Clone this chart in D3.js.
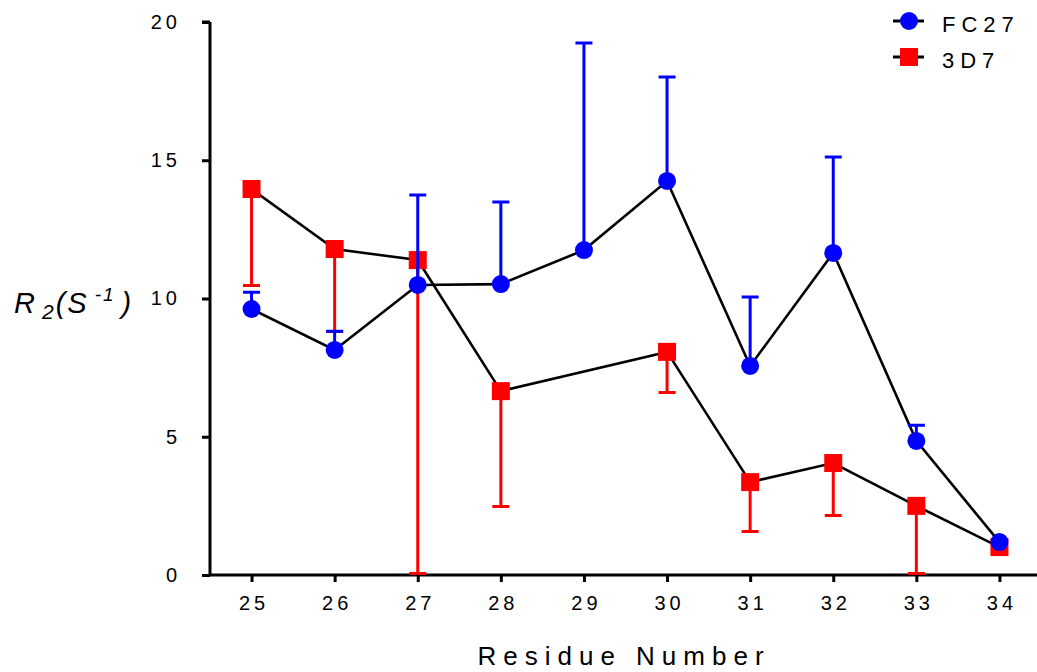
<!DOCTYPE html>
<html><head><meta charset="utf-8">
<script src="https://cdn.jsdelivr.net/npm/d3@7"></script>
<style>
body{margin:0;background:#fff;}
svg{display:block;font-family:"Liberation Sans",Arial,sans-serif;}
</style></head>
<body><svg id="c" width="1037" height="672"></svg>
<script>
const residues = [25,26,27,28,29,30,31,32,33,34];
const fc27 = [9.62,8.14,10.49,10.52,11.75,14.25,7.56,11.65,4.85,1.19];
const fc27Upper = [10.23,8.82,13.74,13.49,19.24,18.01,10.05,15.12,5.42,null];
const d3d7 = [13.96,11.79,11.39,6.65,null,8.07,3.36,4.05,2.5,1.01];
const d3d7Lower = [10.42,8.75,0,2.42,null,6.55,1.52,2.1,0,null];
const yTicks = [0,5,10,15,20];
const seriesNames = ["FC27","3D7"];

const svg = d3.select("#c");
const x = d3.scaleLinear().domain([24.5,34.5]).range([210,1041]);
const y = d3.scaleLinear().domain([0,20]).range([575,22]);

// axes
const yAxis = svg.append("g").attr("transform","translate(210,0)")
  .call(d3.axisLeft(y).tickValues(yTicks).tickSize(8).tickPadding(25).tickFormat(d3.format("d")));
const xAxis = svg.append("g").attr("transform","translate(0,575)")
  .call(d3.axisBottom(x).tickValues(residues).tickSize(7).tickPadding(14).tickFormat(d3.format("d")));
[yAxis,xAxis].forEach(g=>{
  g.select(".domain").attr("stroke","#000").attr("stroke-width",3);
  g.selectAll(".tick line").attr("stroke","#000").attr("stroke-width",3);
  g.selectAll(".tick text").attr("fill","#000").attr("font-size",20)
   .attr("font-family","Liberation Sans, Arial, sans-serif").style("letter-spacing","4px");
});
xAxis.selectAll(".tick text").attr("dx",2);
yAxis.selectAll(".tick text").attr("dx",4);
yAxis.select(".domain").attr("d","M0,575V22M-8,22H0");
xAxis.select(".domain").attr("d","M210,0H1041");

const line = d3.line().x(d=>x(d.r)).y(d=>y(d.v));

const redData = residues.map((r,i)=>({r,v:d3d7[i],e:d3d7Lower[i]})).filter(d=>d.v!=null);
const blueData = residues.map((r,i)=>({r,v:fc27[i],e:fc27Upper[i]}));

const redEb = redData.filter(d=>d.e!=null);
svg.append("g").selectAll("path").data(redEb).join("path")
  .attr("d",d=>`M${x(d.r)},${y(d.v)}V${y(d.e)-1.5}M${x(d.r)-8.5},${y(d.e)-1.5}H${x(d.r)+8.5}`)
  .attr("stroke","#ff0000").attr("stroke-width",3).attr("fill","none");
svg.append("path").datum(redData).attr("d",line).attr("stroke","#000").attr("stroke-width",2.6).attr("fill","none");
svg.append("path").datum(blueData).attr("d",line).attr("stroke","#000").attr("stroke-width",2.6).attr("fill","none");
svg.append("g").selectAll("rect").data(redData).join("rect")
  .attr("x",d=>x(d.r)-9).attr("y",d=>y(d.v)-9).attr("width",18).attr("height",18).attr("fill","#ff0000");

const blueEb = blueData.filter(d=>d.e!=null);
svg.append("g").selectAll("path").data(blueEb).join("path")
  .attr("d",d=>`M${x(d.r)},${y(d.v)}V${y(d.e)}M${x(d.r)-8.5},${y(d.e)}H${x(d.r)+8.5}`)
  .attr("stroke","#0000ff").attr("stroke-width",3).attr("fill","none");
svg.append("g").selectAll("circle").data(blueData).join("circle")
  .attr("cx",d=>x(d.r)).attr("cy",d=>y(d.v)).attr("r",9).attr("fill","#0000ff");

// legend
const lg = svg.append("g");
[0,1].forEach(i=>{
  const cy = 21 + i*36;
  lg.append("line").attr("x1",893).attr("x2",924).attr("y1",cy).attr("y2",cy).attr("stroke","#000").attr("stroke-width",3);
  if(i===0) lg.append("circle").attr("cx",909).attr("cy",cy).attr("r",9).attr("fill","#0000ff");
  else lg.append("rect").attr("x",900).attr("y",cy-9).attr("width",18).attr("height",18).attr("fill","#ff0000");
  lg.append("text").attr("x",942).attr("y",cy+11).attr("font-size",22).style("letter-spacing","6px").text(seriesNames[i]);
});

// axis titles
svg.append("text").attr("x",624).attr("y",665).attr("text-anchor","middle").attr("font-size",26)
  .style("letter-spacing","7px").text("Residue Number");
const yt = svg.append("text").attr("x",14).attr("y",313).attr("font-size",29).attr("font-style","italic")
  .style("letter-spacing","2px");
yt.append("tspan").text("R");
yt.append("tspan").attr("font-size",21).attr("dx",5).attr("dy",6).text("2");
yt.append("tspan").attr("font-size",29).attr("dy",-6).attr("dx",0).text("(S");
yt.append("tspan").attr("font-size",19).attr("dy",-12).attr("dx",6).text("-1");
yt.append("tspan").attr("font-size",29).attr("dy",12).attr("dx",6).text(")");
</script></body></html>
